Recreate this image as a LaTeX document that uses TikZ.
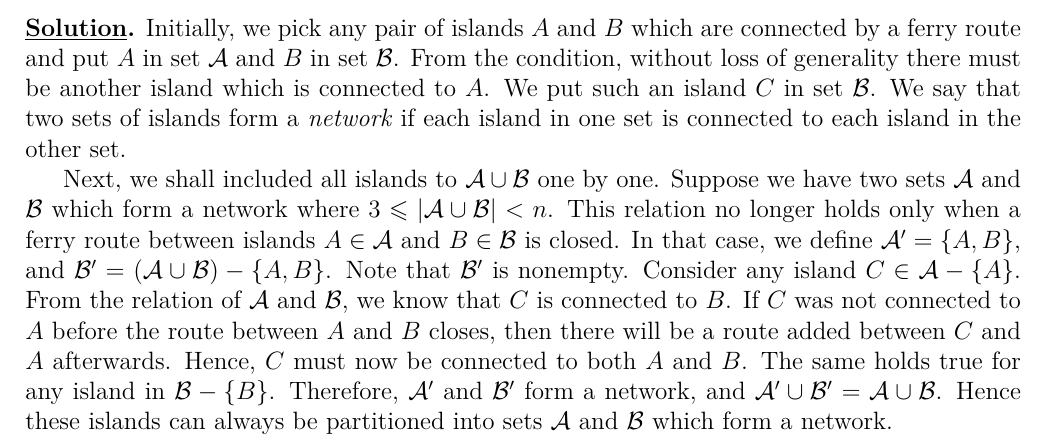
\documentclass[tikz,border=0pt]{standalone}
\usepackage{amsmath,amssymb}
\newlength\tw
\setlength\tw{476.4pt}
\newcommand\fl[1]{\makebox[\tw][s]{#1}}
\newcommand\cA{\mathcal{A}}
\newcommand\cB{\mathcal{B}}
\begin{document}
\begin{tikzpicture}[x=1pt,y=1pt,
  txt/.style={anchor=base west, inner sep=0pt, outer sep=0pt,
    font=\fontsize{12}{14.5}\selectfont}]
\useasboundingbox (0,0) rectangle (502.9,-212.5);
\node[txt] (l1) at (12.15,-17.23) {\fl{\underline{\textbf{Solution}}\textbf{.} Initially, we pick any pair of islands $A$ and $B$ which are connected by a ferry route}};
\node[txt] (l2) at (12.15,-31.73) {\fl{and put $A$ in set $\cA$ and $B$ in set $\cB$. From the condition, without loss of generality there must}};
\node[txt] (l3) at (12.15,-46.23) {\fl{be another island which is connected to $A$. We put such an island $C$ in set $\cB$. We say that}};
\node[txt] (l4) at (12.15,-60.73) {\fl{two sets of islands form a \emph{network} if each island in one set is connected to each island in the}};
\node[txt] (l5) at (12.15,-75.23) {other set.};
\node[txt] (l6) at (30.15,-89.73) {\makebox[\dimexpr\tw-18pt\relax][s]{Next, we shall included all islands to $\cA\cup\cB$ one by one. Suppose we have two sets $\cA$ and}};
\node[txt] (l7) at (12.15,-104.23) {\fl{$\cB$ which form a network where $3\leqslant|\cA\cup\cB|<n$. This relation no longer holds only when a}};
\node[txt] (l8) at (12.15,-118.73) {\fl{ferry route between islands $A\in\cA$ and $B\in\cB$ is closed. In that case, we define $\cA'=\{A,B\}$,}};
\node[txt] (l9) at (12.15,-133.23) {\fl{and $\cB'=(\cA\cup\cB)-\{A,B\}$. Note that $\cB'$ is nonempty. Consider any island $C\in\cA-\{A\}$.}};
\node[txt] (l10) at (12.15,-147.73) {\fl{From the relation of $\cA$ and $\cB$, we know that $C$ is connected to $B$. If $C$ was not connected to}};
\node[txt] (l11) at (12.15,-162.23) {\fl{$A$ before the route between $A$ and $B$ closes, then there will be a route added between $C$ and}};
\node[txt] (l12) at (12.15,-176.73) {\fl{$A$ afterwards. Hence, $C$ must now be connected to both $A$ and $B$. The same holds true for}};
\node[txt] (l13) at (12.15,-191.23) {\fl{any island in $\cB-\{B\}$. Therefore, $\cA'$ and $\cB'$ form a network, and $\cA'\cup\cB'=\cA\cup\cB$. Hence}};
\node[txt] (l14) at (12.15,-205.73) {these islands can always be partitioned into sets $\cA$ and $\cB$ which form a network.};
\end{tikzpicture}
\end{document}
